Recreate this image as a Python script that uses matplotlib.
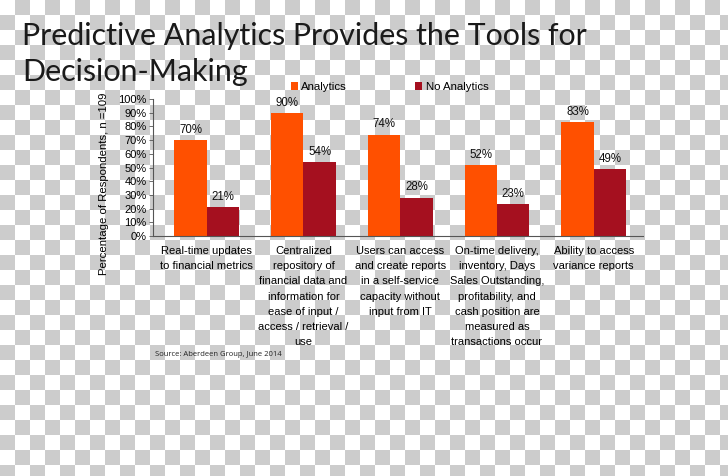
import numpy as np
import matplotlib
matplotlib.use("Agg")
import matplotlib.pyplot as plt

categories = [
    "Real-time updates\nto financial metrics",
    "Centralized\nrepository of\nfinancial data and\ninformation for\nease of input /\naccess / retrieval /\nuse",
    "Users can access\nand create reports\nin a self-service\ncapacity without\ninput from IT",
    "On-time delivery,\ninventory, Days\nSales Outstanding,\nprofitability, and\ncash position are\nmeasured as\ntransactions occur",
    "Ability to access\nvariance reports",
]
analytics = [70, 90, 74, 52, 83]
no_analytics = [21, 54, 28, 23, 49]
yticks = [0, 10, 20, 30, 40, 50, 60, 70, 80, 90, 100]
series_names = ["Analytics", "No Analytics"]

ORANGE = "#FF5000"
DARKRED = "#A5101F"
W, H = 728, 476
NARROW = ["Liberation Sans Narrow", "Liberation Sans", "DejaVu Sans"]

fig = plt.figure(figsize=(W / 100, H / 100), dpi=100)

# transparent-style checkerboard background
bg = fig.add_axes([0, 0, 1, 1], zorder=-10)
sq = 15
ny, nx = int(np.ceil(H / sq)), int(np.ceil(W / sq))
checker = (np.add.outer(np.arange(ny), np.arange(nx)) % 2).astype(float)
bg.imshow(checker, cmap=matplotlib.colors.ListedColormap(["#ffffff", "#cccccc"]),
          interpolation="nearest", extent=(0, nx * sq, ny * sq, 0), aspect="auto")
bg.set_xlim(0, W)
bg.set_ylim(H, 0)
bg.axis("off")

ax = fig.add_axes([153 / W, (H - 236) / H, 490 / W, 137 / H])
ax.set_facecolor("none")
x = np.arange(len(categories))
bw = 0.335
b1 = ax.bar(x - bw / 2, analytics, bw, color=ORANGE, label=series_names[0])
b2 = ax.bar(x + bw / 2, no_analytics, bw, color=DARKRED, label=series_names[1])

for bars, vals in ((b1, analytics), (b2, no_analytics)):
    for r, v in zip(bars, vals):
        ax.annotate(f"{v}%", (r.get_x() + r.get_width() / 2, v), xytext=(0, 3),
                    textcoords="offset points", ha="center", va="bottom",
                    fontsize=8.3, family=NARROW, color="#111111")

ax.set_xlim(-0.555, 4.51)
ax.set_ylim(0, 100)
ax.set_yticks(yticks)
ax.set_yticklabels([f"{t}%" for t in yticks], family=NARROW, fontsize=8)
ax.tick_params(axis="y", direction="out", length=3, width=0.6, pad=1.5, color="#555555")
ax.set_xticks(x)
ax.set_xticklabels(categories, family=NARROW, fontsize=8, linespacing=1.63,
                   va="top", ha="center", multialignment="center")
ax.tick_params(axis="x", length=0, pad=7.5)
for s in ("top", "right"):
    ax.spines[s].set_visible(False)
for s in ("left", "bottom"):
    ax.spines[s].set_color("#555555")
    ax.spines[s].set_linewidth(0.8)

fig.text(104 / W, 1 - 184 / H, "Percentage of Respondents, n =109", rotation=90,
         ha="center", va="center", fontsize=8.2, family=NARROW)

fig.legend(handles=[b1, b2], labels=series_names, loc="center left",
           bbox_to_anchor=(291 / W, 1 - 87 / H), ncol=2, frameon=False,
           handlelength=0.6, handleheight=0.6, handletextpad=0.3, columnspacing=6.0,
           prop={"family": NARROW, "size": 8.2}, borderpad=0, borderaxespad=0)

TITLE_FONT = ["Lato", "DejaVu Sans"]
fig.text(22 / W, 1 - 45 / H, "Predictive Analytics Provides the Tools for",
         fontsize=21.9, family=TITLE_FONT, fontweight="normal",
         ha="left", va="baseline", color="#1a1a1a")
fig.text(22 / W, 1 - 81 / H, "Decision-Making",
         fontsize=21.9, family=TITLE_FONT, fontweight="normal",
         ha="left", va="baseline", color="#1a1a1a")

fig.text(155 / W, 1 - 355 / H, "Source: Aberdeen Group, June 2014",
         fontsize=5.5, family=["Open Sans", "DejaVu Sans"], ha="left", va="center",
         color="#222222")

fig.savefig("out.png", dpi=100)
